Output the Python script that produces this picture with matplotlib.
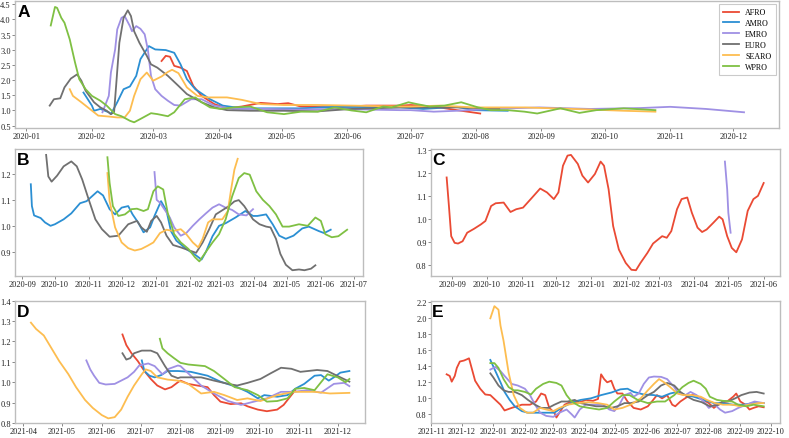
import matplotlib
matplotlib.use('Agg')
import matplotlib.pyplot as plt
import matplotlib.dates as mdates
from matplotlib.ticker import MultipleLocator, FormatStrFormatter
import pandas as pd

plt.rcParams['font.family'] = ['Liberation Serif', 'DejaVu Serif']

regions = ['AFRO', 'AMRO', 'EMRO', 'EURO', 'SEARO', 'WPRO']
colors = {
    'AFRO': '#ea4a34',
    'AMRO': '#2b8fd3',
    'EMRO': '#9f90e4',
    'EURO': '#707070',
    'SEARO': '#fdbd50',
    'WPRO': '#7fc043',
}

# ---- panel A (days since 2020-01-01) ----
a_base = '2020-01-01'
a_afro_days = [64, 66, 68, 70, 73, 76, 79, 83, 89, 95, 102, 111, 119, 124, 130, 146, 161, 177, 182, 193, 204, 215]
a_afro_vals = [2.63, 2.80, 2.77, 2.47, 2.41, 2.30, 1.81, 1.48, 1.21, 1.07, 1.13, 1.25, 1.21, 1.24, 1.13, 1.10,
               1.16, 1.16, 1.18, 1.13, 1.01, 0.90]
a_amro_days = [27, 31, 32, 35, 39, 40, 43, 46, 49, 52, 54, 58, 61, 66, 70, 73, 76, 80, 87, 93, 102, 114, 130,
               146, 177, 188, 204, 212, 228]
a_amro_vals = [1.59, 1.16, 0.99, 1.05, 0.94, 0.88, 1.27, 1.70, 1.79, 2.14, 2.69, 3.12, 3.01, 2.99, 2.90, 2.52,
               2.03, 1.70, 1.37, 1.16, 1.07, 1.07, 1.07, 1.12, 1.10, 1.05, 1.12, 1.01, 0.99]
a_emro_days = [36, 39, 40, 42, 43, 45, 46.5, 49, 50, 52, 54, 56, 57.5, 59, 61, 64, 67, 70, 73, 78, 83, 89, 98,
               114, 130, 146, 177, 182, 193, 204, 220, 243, 267, 291, 305, 322, 340]
a_emro_vals = [0.94, 1.48, 2.25, 3.01, 3.67, 4.05, 4.11, 3.78, 3.61, 3.78, 3.69, 3.51, 3.01, 2.14, 1.70, 1.48,
               1.32, 1.18, 1.16, 1.37, 1.37, 1.16, 1.05, 1.05, 1.03, 1.05, 1.01, 1.01, 0.96, 0.99, 1.05, 1.10,
               1.05, 1.08, 1.12, 1.05, 0.94]
a_euro_days = [11, 13, 16, 18, 21, 24, 26, 28, 32, 35, 38, 40, 41.5, 42.5, 44, 46, 48, 49.5, 51, 53.5, 57, 59,
               62, 67, 72, 76, 83, 89, 95, 106, 122, 138, 154, 177, 204, 224]
a_euro_vals = [1.16, 1.37, 1.40, 1.76, 2.05, 2.19, 1.98, 1.65, 1.27, 1.10, 0.99, 0.88, 0.94, 1.84, 3.23, 4.05,
               4.30, 4.11, 3.61, 3.23, 2.80, 2.52, 2.41, 2.14, 1.81, 1.54, 1.27, 1.10, 1.01, 0.99, 0.99, 0.97,
               1.05, 1.10, 1.10, 1.05]
a_searo_days = [20.5, 22, 26, 30, 34, 39, 43, 46.5, 49, 51, 54, 57, 60, 64, 67, 69, 72, 76, 81, 86, 95, 102,
                111, 122, 138, 154, 177, 182, 196, 212, 236, 259, 283, 298]
a_searo_vals = [1.70, 1.48, 1.27, 1.05, 0.83, 0.80, 0.77, 0.77, 0.99, 1.48, 2.03, 2.25, 1.98, 2.12, 2.27, 2.34,
                2.23, 1.76, 1.48, 1.43, 1.43, 1.35, 1.21, 1.18, 1.18, 1.16, 1.13, 1.13, 1.16, 1.10, 1.10, 1.05,
                0.99, 0.96]
a_wpro_days = [11.5, 13.5, 14.5, 16.5, 18, 20.5, 23, 25, 28, 31, 35, 38, 42, 45, 49, 51, 54, 59, 62, 67, 70, 75,
               80, 83, 87, 92, 98, 106, 114, 122, 130, 138, 146, 154, 161, 169, 173, 181, 185, 191, 198, 206, 214,
               220, 228, 236, 242, 253, 262, 270, 283, 298]
a_wpro_vals = [3.80, 4.41, 4.38, 4.05, 3.89, 3.34, 2.58, 2.03, 1.70, 1.48, 1.32, 1.16, 0.88, 0.81, 0.66, 0.61,
               0.72, 0.91, 0.88, 0.81, 0.94, 1.37, 1.43, 1.27, 1.10, 1.05, 1.10, 1.13, 0.94, 0.88, 0.96, 0.96,
               1.10, 1.00, 0.94, 1.13, 1.10, 1.27, 1.21, 1.13, 1.16, 1.27, 1.10, 1.01, 1.01, 0.96, 0.90, 1.07,
               0.92, 1.01, 1.07, 1.01]

# ---- panel B (days since 2020-09-01) ----
b_base = '2020-09-01'
b_amro_days = [8, 9, 11, 17, 21, 26, 30, 38, 45, 53, 59, 64, 69, 74, 80, 85, 91, 97, 101, 106, 111, 117, 121,
               127, 132, 136, 141, 150, 159, 164, 168, 174, 180, 186, 195, 204, 211, 215, 223, 229, 235, 241, 248,
               256, 262, 271, 276, 282]
b_amro_vals = [1.16, 1.076, 1.04, 1.03, 1.013, 1.00, 1.006, 1.025, 1.048, 1.087, 1.095, 1.114, 1.133, 1.117,
               1.064, 1.044, 1.07, 1.076, 1.044, 1.013, 0.975, 0.994, 1.038, 1.095, 1.057, 0.98, 0.943, 0.911,
               0.886, 0.87, 0.90, 0.96, 1.00, 1.01, 1.032, 1.057, 1.038, 1.038, 1.044, 1.006, 0.962, 0.95, 0.962,
               0.99, 0.997, 0.98, 0.972, 0.985]
b_emro_days = [121, 123, 126, 130, 135, 139, 145, 150, 156, 162, 168, 174, 180, 186, 192, 198, 205, 211]
b_emro_vals = [1.207, 1.10, 1.089, 1.064, 1.032, 0.994, 0.962, 0.972, 1.0, 1.025, 1.048, 1.07, 1.083, 1.07,
               1.061, 1.044, 1.04, 1.064]
b_euro_days = [22, 24, 27, 32, 38, 45, 50, 55, 61, 67, 73, 80, 88, 97, 105, 109, 114, 118, 123, 127, 132, 138,
               145, 153, 159, 165, 171, 177, 183, 189, 194, 198, 203, 211, 217, 223, 227, 232, 236, 241, 247, 253,
               258, 264, 268]
b_euro_vals = [1.273, 1.19, 1.17, 1.193, 1.229, 1.248, 1.229, 1.178, 1.10, 1.025, 0.987, 0.958, 0.962, 1.006,
               1.019, 0.994, 0.977, 1.019, 1.038, 1.013, 0.962, 0.926, 0.917, 0.905, 0.896, 0.936, 0.987, 1.044,
               1.06, 1.076, 1.094, 1.099, 1.076, 1.025, 1.006, 0.997, 0.994, 0.95, 0.892, 0.85, 0.829, 0.832,
               0.829, 0.835, 0.848]
b_searo_days = [78, 80, 85, 91, 97, 103, 109, 115, 120, 126, 132, 138, 145, 150, 156, 161, 165, 170, 174, 183,
                188, 191, 194, 197]
b_searo_vals = [1.203, 1.095, 0.994, 0.936, 0.914, 0.905, 0.911, 0.924, 0.936, 0.972, 0.985, 0.98, 0.987,
                0.968, 0.936, 0.917, 0.95, 1.013, 1.025, 1.025, 1.057, 1.14, 1.216, 1.258]
b_wpro_days = [78, 80, 83, 88, 94, 100, 105, 111, 115, 120, 124, 129, 133, 139, 145, 152, 158, 162, 168, 174,
               180, 186, 192, 198, 203, 208, 214, 220, 226, 232, 238, 244, 253, 261, 268, 273, 277, 283, 289, 297]
b_wpro_vals = [1.264, 1.165, 1.076, 1.038, 1.044, 1.064, 1.066, 1.057, 1.064, 1.133, 1.152, 1.14, 1.051, 0.968,
               0.936, 0.911, 0.879, 0.863, 0.90, 0.936, 0.968, 1.025, 1.114, 1.184, 1.203, 1.197, 1.133, 1.10,
               1.076, 1.044, 0.997, 0.997, 1.006, 1.0, 1.032, 1.019, 0.968, 0.956, 0.96, 0.985]

# ---- panel C (days since 2020-09-01) ----
c_base = '2020-09-01'
c_afro_days = [-5, -3, -1, 2, 5, 9, 13, 19, 25, 29, 34, 38, 45, 51, 56, 62, 70, 77, 83, 89, 93, 97, 101, 104,
               110, 114, 119, 125, 130, 133, 137, 141, 146, 152, 157, 161, 165, 171, 176, 184, 188, 192, 197,
               201, 206, 210, 215, 219, 223, 229, 234, 237, 241, 245, 249, 254, 259, 264, 268, 273]
c_afro_vals = [1.179, 1.055, 0.924, 0.895, 0.892, 0.902, 0.939, 0.956, 0.975, 0.99, 1.055, 1.067, 1.07, 1.029,
               1.041, 1.048, 1.092, 1.131, 1.114, 1.085, 1.114, 1.23, 1.274, 1.277, 1.238, 1.187, 1.157, 1.194,
               1.248, 1.23, 1.128, 0.968, 0.866, 0.808, 0.778, 0.776, 0.808, 0.851, 0.892, 0.924, 0.917, 0.946,
               1.041, 1.085, 1.092, 1.026, 0.961, 0.942, 0.953, 0.983, 1.009, 0.997, 0.924, 0.873, 0.854, 0.91,
               1.034, 1.085, 1.099, 1.155]
c_emro_days = [239, 241, 242, 244]
c_emro_vals = [1.248, 1.128, 1.026, 0.939]

# ---- panel D (days since 2021-04-01) ----
d_base = '2021-04-01'
d_afro_days = [77, 80, 84, 89, 94, 99, 104, 110, 115, 120, 122, 128, 135, 143, 148, 153, 161, 169, 174, 182, 189,
               197, 202, 208, 211]
d_afro_vals = [1.234, 1.182, 1.142, 1.103, 1.055, 1.016, 0.984, 0.965, 0.976, 1.0, 1.008, 0.992, 0.984, 0.976,
               0.937, 0.905, 0.893, 0.897, 0.882, 0.866, 0.858, 0.866, 0.889, 0.937, 0.961]
d_amro_days = [92, 94, 98, 102, 107, 112, 120, 130, 143, 153, 166, 174, 182, 187, 197, 205, 211, 218, 226, 231,
               237, 241, 246, 253]
d_amro_vals = [1.107, 1.055, 1.032, 1.024, 1.035, 1.055, 1.055, 1.051, 1.032, 1.003, 0.976, 0.953, 0.921, 0.937,
               0.929, 0.937, 0.968, 0.992, 1.032, 1.035, 1.008, 1.024, 1.047, 1.055]
d_emro_days = [49, 52, 55, 59, 64, 71, 76, 81, 86, 90, 97, 102, 108, 113, 120, 122, 130, 138, 148, 159, 169, 179,
               189, 200, 210, 220, 231, 241, 249, 253]
d_emro_vals = [1.107, 1.063, 1.032, 0.997, 0.989, 0.992, 1.008, 1.024, 1.051, 1.082, 1.092, 1.079, 1.039, 1.066,
               1.082, 1.079, 1.032, 0.984, 0.945, 0.908, 0.889, 0.905, 0.921, 0.953, 0.953, 0.961, 0.949, 0.992,
               0.997, 0.981]
d_euro_days = [77, 80, 83, 86, 92, 99, 104, 110, 115, 120, 122, 138, 148, 159, 166, 174, 184, 192, 200, 208, 215,
               228, 236, 246, 253]
d_euro_vals = [1.142, 1.111, 1.118, 1.142, 1.155, 1.155, 1.142, 1.079, 1.032, 1.02, 1.024, 1.024, 1.008, 0.992,
               0.984, 0.997, 1.016, 1.044, 1.071, 1.066, 1.051, 1.06, 1.055, 1.024, 1.003]
d_searo_days = [6, 10, 16, 22, 28, 35, 41, 48, 54, 61, 66, 71, 76, 81, 86, 92, 95, 99, 104, 112, 120, 128, 138,
                148, 156, 166, 174, 184, 197, 210, 226, 238, 253]
d_searo_vals = [1.292, 1.261, 1.229, 1.166, 1.103, 1.04, 0.976, 0.913, 0.874, 0.839, 0.823, 0.829, 0.866, 0.929,
                0.984, 1.039, 1.063, 1.055, 1.024, 1.013, 1.008, 0.992, 0.945, 0.953, 0.937, 0.913, 0.921, 0.908,
                0.937, 0.953, 0.953, 0.945, 0.948]
d_wpro_days = [106, 108, 112, 117, 122, 128, 141, 148, 156, 164, 174, 182, 189, 197, 205, 211, 218, 226, 231, 236,
               244, 250, 253]
d_wpro_vals = [1.213, 1.166, 1.142, 1.118, 1.095, 1.087, 1.079, 1.055, 1.016, 0.976, 0.961, 0.937, 0.905, 0.908,
               0.921, 0.968, 0.972, 0.961, 1.0, 1.039, 1.024, 1.0, 1.016]

# ---- panel E (days since 2022-01-01) ----
e_base = '2022-01-01'
e_afro_days = [-46, -43, -41, -38, -36, -33, -29, -26, -24, -21, -18, -13, -8, -3, 2, 7, 11, 18, 28, 36, 42, 47,
               51, 55, 60, 62, 65, 70, 77, 83, 91, 98, 103, 106, 109, 112, 116, 119, 122, 127, 132, 138, 145, 152,
               156, 161, 166, 171, 176, 179, 184, 191, 197, 204, 212, 217, 223, 230, 236, 239, 243, 248, 252, 256,
               261, 266]
e_afro_vals = [1.292, 1.272, 1.2, 1.272, 1.372, 1.452, 1.464, 1.48, 1.492, 1.352, 1.212, 1.112, 1.04, 1.032,
               0.972, 0.912, 0.84, 0.872, 0.912, 0.912, 0.952, 1.052, 1.032, 0.872, 0.812, 0.752, 0.812, 0.912,
               0.952, 0.932, 0.972, 0.96, 0.984, 1.292, 1.232, 1.192, 1.212, 1.112, 1.052, 1.052, 0.952, 0.872,
               0.852, 0.892, 0.952, 1.032, 0.992, 1.032, 0.912, 0.892, 0.952, 1.012, 1.04, 0.992, 0.932, 0.872,
               0.932, 0.952, 1.012, 1.052, 0.952, 0.912, 0.852, 0.872, 0.892, 0.88]
e_amro_days = [-3, 2, 7, 11, 16, 21, 28, 34, 44, 54, 60, 67, 73, 80, 86, 96, 106, 116, 125, 132, 138, 148, 158,
               166, 174, 181, 189, 197, 207, 217, 226, 236, 246, 256, 266]
e_amro_vals = [1.472, 1.332, 1.192, 1.072, 0.972, 0.892, 0.832, 0.812, 0.812, 0.812, 0.812, 0.872, 0.912, 0.952,
               0.972, 0.992, 1.032, 1.064, 1.104, 1.112, 1.072, 1.04, 1.032, 1.012, 1.052, 1.072, 1.032, 1.012,
               0.972, 0.932, 0.932, 0.912, 0.912, 0.932, 0.932]
e_emro_days = [-3, 2, 7, 11, 18, 24, 31, 36, 41, 46, 52, 59, 65, 72, 77, 80, 85, 91, 99, 108, 114, 119, 124, 129,
               135, 138, 143, 148, 153, 158, 165, 171, 178, 182, 189, 194, 200, 207, 212, 218, 223, 228, 235, 241,
               249, 257, 266]
e_emro_vals = [1.352, 1.384, 1.332, 1.272, 1.172, 1.152, 1.112, 1.032, 0.912, 0.812, 0.772, 0.76, 0.812, 0.852,
               0.792, 0.752, 0.852, 0.912, 0.912, 0.912, 0.852, 0.832, 0.912, 1.032, 1.06, 1.012, 1.052, 1.172,
               1.252, 1.264, 1.26, 1.232, 1.132, 1.052, 1.032, 1.072, 1.032, 0.952, 0.872, 0.912, 0.852, 0.812,
               0.832, 0.872, 0.912, 0.952, 0.932]
e_euro_days = [-3, 0, 5, 10, 15, 21, 28, 34, 41, 47, 54, 60, 67, 73, 80, 86, 93, 101, 109, 116, 122, 129, 135,
               143, 152, 158, 165, 171, 178, 184, 191, 197, 205, 213, 222, 226, 231, 238, 244, 252, 259, 266]
e_euro_vals = [1.304, 1.252, 1.152, 1.092, 1.072, 1.072, 1.032, 0.972, 0.912, 0.872, 0.872, 0.912, 0.952, 0.952,
               0.972, 0.932, 0.912, 0.892, 0.892, 0.872, 0.892, 0.932, 0.932, 0.952, 1.032, 1.072, 1.152, 1.184,
               1.152, 1.072, 1.012, 0.972, 0.944, 0.892, 0.912, 0.96, 0.952, 0.992, 1.032, 1.064, 1.072, 1.052]
e_searo_days = [-3, 1, 5, 7, 10, 15, 20, 26, 33, 39, 46, 52, 59, 65, 73, 83, 93, 103, 112, 119, 127, 135, 145,
                152, 158, 163, 168, 174, 181, 187, 195, 204, 210, 218, 226, 235, 243, 252, 261, 266]
e_searo_vals = [1.992, 2.144, 2.10, 1.90, 1.712, 1.312, 1.032, 0.872, 0.812, 0.812, 0.872, 0.852, 0.832, 0.872,
                0.912, 0.932, 0.944, 0.932, 0.912, 0.852, 0.872, 0.912, 0.992, 1.092, 1.172, 1.232, 1.192, 1.132,
                1.052, 1.032, 1.032, 1.012, 0.972, 0.932, 0.912, 0.912, 0.892, 0.912, 0.932, 0.932]
e_wpro_days = [-3, 1, 5, 10, 15, 20, 24, 31, 37, 42, 49, 55, 62, 67, 72, 77, 85, 94, 104, 112, 119, 127, 134, 142,
               152, 161, 169, 178, 186, 192, 197, 204, 209, 213, 220, 226, 235, 241, 249, 256, 266]
e_wpro_vals = [1.432, 1.432, 1.372, 1.232, 1.132, 1.092, 1.092, 1.072, 1.04, 1.112, 1.172, 1.2, 1.184, 1.152,
               1.032, 0.952, 0.892, 0.872, 0.852, 0.872, 0.952, 1.032, 1.032, 0.972, 0.932, 0.952, 0.952, 1.032,
               1.132, 1.184, 1.212, 1.172, 1.112, 1.012, 0.972, 0.96, 0.952, 0.912, 0.892, 0.912, 0.892]

panels = [
    ('A', a_base, [('AFRO', a_afro_days, a_afro_vals), ('AMRO', a_amro_days, a_amro_vals),
                   ('EMRO', a_emro_days, a_emro_vals), ('EURO', a_euro_days, a_euro_vals),
                   ('SEARO', a_searo_days, a_searo_vals), ('WPRO', a_wpro_days, a_wpro_vals)]),
    ('B', b_base, [('AMRO', b_amro_days, b_amro_vals), ('EMRO', b_emro_days, b_emro_vals),
                   ('EURO', b_euro_days, b_euro_vals), ('SEARO', b_searo_days, b_searo_vals),
                   ('WPRO', b_wpro_days, b_wpro_vals)]),
    ('C', c_base, [('AFRO', c_afro_days, c_afro_vals), ('EMRO', c_emro_days, c_emro_vals)]),
    ('D', d_base, [('AFRO', d_afro_days, d_afro_vals), ('AMRO', d_amro_days, d_amro_vals),
                   ('EMRO', d_emro_days, d_emro_vals), ('EURO', d_euro_days, d_euro_vals),
                   ('SEARO', d_searo_days, d_searo_vals), ('WPRO', d_wpro_days, d_wpro_vals)]),
    ('E', e_base, [('AFRO', e_afro_days, e_afro_vals), ('AMRO', e_amro_days, e_amro_vals),
                   ('EMRO', e_emro_days, e_emro_vals), ('EURO', e_euro_days, e_euro_vals),
                   ('SEARO', e_searo_days, e_searo_vals), ('WPRO', e_wpro_days, e_wpro_vals)]),
]

# y tick steps per panel
y_steps = {'A': 0.5, 'B': 0.1, 'C': 0.1, 'D': 0.1, 'E': 0.2}

# axes boxes in figure fractions
boxes = {
    'A': [0.019, 0.706, 0.968, 0.289],
    'B': [0.019, 0.369, 0.441, 0.289],
    'C': [0.546, 0.369, 0.442, 0.289],
    'D': [0.019, 0.034, 0.444, 0.279],
    'E': [0.546, 0.034, 0.442, 0.279],
}

fig = plt.figure(figsize=(7.89, 4.39), dpi=100)

for name, base, series in panels:
    ax = fig.add_axes(boxes[name])
    t0 = pd.Timestamp(base)
    for region, days, vals in series:
        dates = t0 + pd.to_timedelta(days, unit='D')
        ax.plot(dates, vals, color=colors[region], lw=1.3, label=region)

    ax.xaxis.set_major_locator(mdates.MonthLocator())
    ax.xaxis.set_major_formatter(mdates.DateFormatter('%Y-%m'))
    ax.yaxis.set_major_locator(MultipleLocator(y_steps[name]))
    ax.yaxis.set_major_formatter(FormatStrFormatter('%.1f'))
    if name == 'D':
        ax.set_ylim(0.8, 1.4)

    for s in ax.spines.values():
        s.set_color('#bdbdbd')
        s.set_linewidth(1.0)
    ax.tick_params(labelsize=6, length=2, width=0.7, color='#888888', pad=1, labelcolor='#222222')

    ax.text(0.004, 0.975, name, transform=ax.transAxes, ha='left', va='top',
            fontsize=12.5, fontweight='bold', family=['Liberation Sans', 'DejaVu Sans'])

    if name == 'A':
        leg = ax.legend(loc='upper right', fontsize=5.8, frameon=True, fancybox=False,
                        labelspacing=0.35, handlelength=2.0, borderpad=0.5, borderaxespad=0.4)
        leg.get_frame().set_edgecolor('#bdbdbd')
        leg.get_frame().set_linewidth(0.8)

fig.savefig('out.png', dpi=100)
